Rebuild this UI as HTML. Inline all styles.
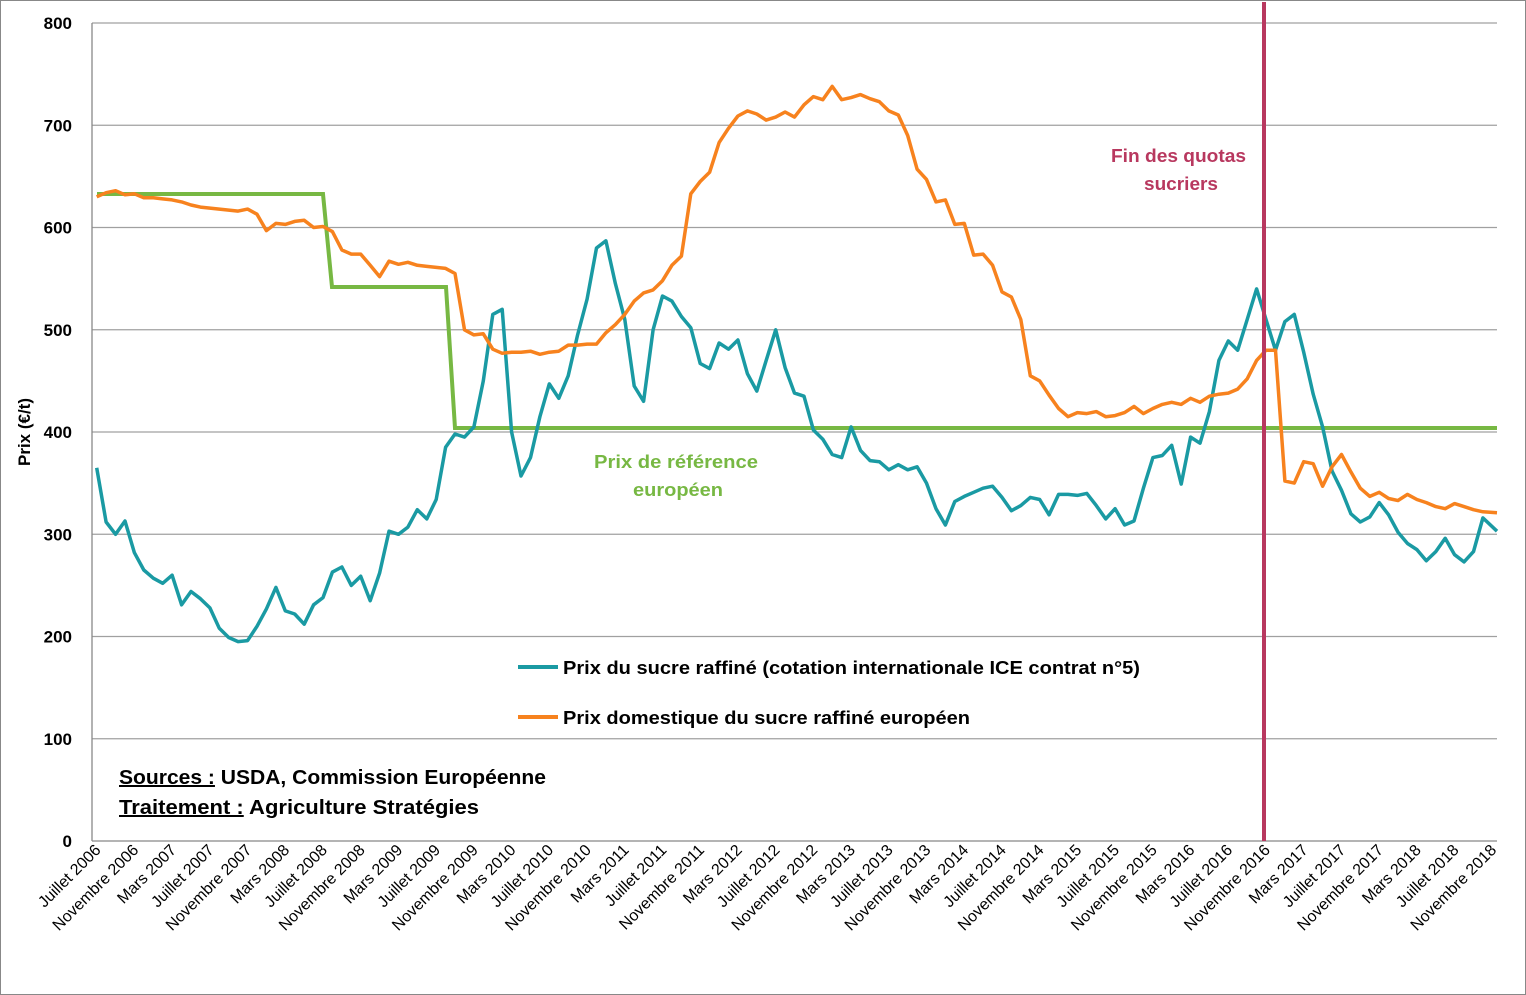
<!DOCTYPE html>
<html><head><meta charset="utf-8"><style>
html,body{margin:0;padding:0;background:#fff}
svg{display:block;font-family:"Liberation Sans",Arial,sans-serif}
</style></head><body>
<svg id="s" width="1526" height="995" viewBox="0 0 1526 995" xmlns="http://www.w3.org/2000/svg">
<rect x="0.5" y="0.5" width="1525" height="994" fill="#fff" stroke="#888"/>
<g id="grid" stroke="#a0a0a0" stroke-width="1.3"></g>
<line x1="92" y1="23" x2="92" y2="841" stroke="#888" stroke-width="1.3"/>
<line x1="92" y1="841" x2="1497" y2="841" stroke="#888" stroke-width="1.3"/>
<g id="ylab" font-size="17" font-weight="bold" fill="#000" text-anchor="end"></g>
<text transform="translate(30,432) rotate(-90)" text-anchor="middle" font-size="17" font-weight="bold">Prix (€/t)</text>
<g id="xlab" font-size="16" fill="#000" text-anchor="end"></g>
<polyline points="97,194 323,194 332,287 446,287 455,428 1497,428" fill="none" stroke="#77b843" stroke-width="4"/>
<polyline id="teal" fill="none" stroke="#1a9aa3" stroke-width="3.5" stroke-linejoin="round"/>
<polyline id="orange" fill="none" stroke="#f7821e" stroke-width="3.5" stroke-linejoin="round"/>
<line x1="1264" y1="2" x2="1264" y2="841" stroke="#b8385f" stroke-width="4"/>
<text x="1111" y="162" font-size="18" font-weight="bold" fill="#b8385f" textLength="135" lengthAdjust="spacingAndGlyphs">Fin des quotas</text>
<text x="1144" y="190" font-size="18" font-weight="bold" fill="#b8385f" textLength="74" lengthAdjust="spacingAndGlyphs">sucriers</text>
<text x="594" y="468" font-size="18" font-weight="bold" fill="#77b843" textLength="164" lengthAdjust="spacingAndGlyphs">Prix de référence</text>
<text x="633" y="496" font-size="18" font-weight="bold" fill="#77b843" textLength="90" lengthAdjust="spacingAndGlyphs">européen</text>
<line x1="518" y1="667" x2="558" y2="667" stroke="#1a9aa3" stroke-width="4"/>
<text x="563" y="674" font-size="18" font-weight="bold" textLength="577" lengthAdjust="spacingAndGlyphs">Prix du sucre raffiné (cotation internationale ICE contrat n°5)</text>
<line x1="518" y1="717" x2="558" y2="717" stroke="#f7821e" stroke-width="4"/>
<text x="563" y="724" font-size="18" font-weight="bold" textLength="407" lengthAdjust="spacingAndGlyphs">Prix domestique du sucre raffiné européen</text>
<text x="119" y="784" font-size="20" font-weight="bold" textLength="427" lengthAdjust="spacingAndGlyphs"><tspan text-decoration="underline">Sources :</tspan> USDA, Commission  Européenne</text>
<text x="119" y="814" font-size="20" font-weight="bold" textLength="360" lengthAdjust="spacingAndGlyphs"><tspan text-decoration="underline">Traitement :</tspan> Agriculture Stratégies</text>
</svg>
<script>
var Y=function(v){return 841-v*1.0225;};
var X=function(i){return 96.7+9.43*i;};
var g=document.getElementById('grid'),yl=document.getElementById('ylab'),ns='http://www.w3.org/2000/svg';
for(var v=0;v<=800;v+=100){
 if(v>0){var l=document.createElementNS(ns,'line');l.setAttribute('x1',92);l.setAttribute('x2',1497);l.setAttribute('y1',Y(v));l.setAttribute('y2',Y(v));g.appendChild(l);}
 var t=document.createElementNS(ns,'text');t.setAttribute('x',72);t.setAttribute('y',Y(v)+6);t.textContent=v;yl.appendChild(t);
}
var teal=[365,312,300,313,282,265,257,252,260,231,244,237,228,208,199,195,196,210,227,248,225,222,212,231,238,263,268,250,259,235,262,303,300,307,324,315,334,385,398,395,405,450,515,520,400,357,375,415,447,433,455,495,530,580,587,545,510,445,430,500,533,528,513,502,467,462,487,481,490,457,440,470,500,463,438,435,402,393,378,375,405,382,372,371,363,368,363,366,350,325,309,332,337,341,345,347,336,323,328,336,334,319,339,339,338,340,328,315,325,309,313,345,375,377,387,349,395,389,420,470,489,480,510,540,510,480,508,515,478,437,405,362,343,320,312,317,331,319,302,291,285,274,283,296,280,273,283,316,303];
var orange=[630,634,636,632,633,629,629,628,627,625,622,620,619,618,617,616,618,613,597,604,603,606,607,600,601,596,578,574,574,563,552,567,564,566,563,562,561,560,555,500,495,496,481,477,478,478,479,476,478,479,485,485,486,486,497,505,515,528,536,539,548,563,572,633,645,654,683,697,709,714,711,705,708,713,708,720,728,725,738,725,727,730,726,723,714,710,690,657,647,625,627,603,604,573,574,563,537,532,510,455,450,436,423,415,419,418,420,415,416,419,425,418,423,427,429,427,433,429,435,437,438,442,452,470,480,480,352,350,371,369,347,366,378,361,345,337,341,335,333,339,334,331,327,325,330,327,324,322,321];
function pts(a){return a.map(function(v,i){var x=X(i);if(i==a.length-1)x=1497;return x.toFixed(1)+','+Y(v).toFixed(1);}).join(' ');}
document.getElementById('teal').setAttribute('points',pts(teal));
document.getElementById('orange').setAttribute('points',pts(orange));
var m=['Juillet','Novembre','Mars'],xl=document.getElementById('xlab');
for(var k=0;k<38;k++){var i=4*k,yr=2006+Math.floor((6+i)/12),name=m[k%3];
 var t=document.createElementNS(ns,'text');var x=X(i)+5,y=851;
 t.setAttribute('transform','translate('+x+','+y+') rotate(-45)');t.textContent=name+' '+yr;xl.appendChild(t);}
</script>
</body></html>
